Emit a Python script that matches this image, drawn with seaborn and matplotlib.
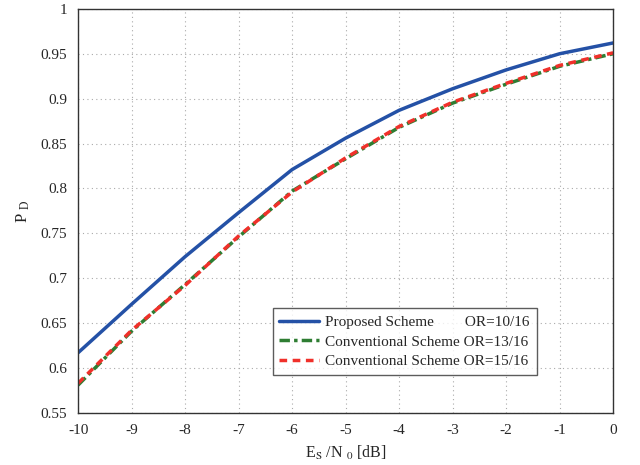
import matplotlib
matplotlib.use("Agg")
import matplotlib.pyplot as plt
import seaborn as sns
import pandas as pd

snr_db = [-10, -9, -8, -7, -6, -5, -4, -3, -2, -1, 0]
pd_proposed = [0.617, 0.671, 0.724, 0.773, 0.821, 0.856, 0.887, 0.911, 0.932, 0.950, 0.962]
pd_conv13 = [0.581, 0.641, 0.693, 0.746, 0.797, 0.833, 0.868, 0.895, 0.916, 0.936, 0.950]
pd_conv15 = [0.583, 0.642, 0.692, 0.747, 0.796, 0.834, 0.869, 0.896, 0.917, 0.937, 0.951]
labels = ["Proposed Scheme        OR=10/16",
          "Conventional Scheme OR=13/16",
          "Conventional Scheme OR=15/16"]
x_ticks = [-10, -9, -8, -7, -6, -5, -4, -3, -2, -1, 0]
y_ticks = [0.55, 0.6, 0.65, 0.7, 0.75, 0.8, 0.85, 0.9, 0.95, 1]

sns.set_style("white")
plt.rcParams['font.family'] = ['Liberation Serif', 'DejaVu Serif']
plt.rcParams['mathtext.fontset'] = 'stix'

fig = plt.figure(figsize=(6.4, 4.65), dpi=100)
ax = fig.add_axes([0.122, 0.112, 0.836, 0.869])

series = [(pd_proposed, "#2451a6", "-"),
          (pd_conv13, "#2e7d32", (0, (3, 1.2, 1, 1.2))),
          (pd_conv15, "#f0302a", (0, (2.2, 1.6)))]
for (vals, col, ls), lab in zip(series, labels):
    df = pd.DataFrame({"x": snr_db, "y": vals})
    sns.lineplot(data=df, x="x", y="y", ax=ax, color=col, linewidth=2.5,
                 label=lab, linestyle=ls)

ax.set_xlim(-10, 0)
ax.set_ylim(0.55, 1)
ax.set_xticks(x_ticks)
ax.set_xticklabels([str(t) for t in x_ticks])
ax.set_yticks(y_ticks)
ax.set_yticklabels([f"{t:g}" for t in y_ticks])
ax.tick_params(direction='in', length=4, labelsize=11, color='#333333', pad=8)
ax.grid(True, linestyle=(0, (1, 3)), color='#aaaaaa', linewidth=0.8)
for s in ax.spines.values():
    s.set_color('#333333')
    s.set_linewidth(1.0)

ax.set_xlabel(r'E$_{\mathrm{S}}$ /N $_{\mathrm{0}}$ [dB]', fontsize=11.5, labelpad=5)
ax.set_ylabel(r'P $_{\mathrm{D}}$', fontsize=12, labelpad=6)

leg = ax.legend(loc='lower right', bbox_to_anchor=(0.857, 0.093), fontsize=11,
                frameon=True, fancybox=False, edgecolor='#333333',
                handlelength=2.6, handletextpad=0.4, borderpad=0.45,
                labelspacing=0.4, borderaxespad=0)
leg.get_frame().set_linewidth(1.0)

fig.savefig("out.png", dpi=100)
